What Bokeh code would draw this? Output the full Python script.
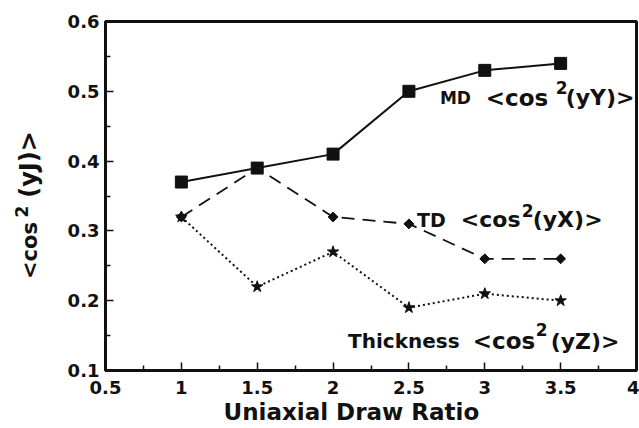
import math

from bokeh.core.properties import value
from bokeh.embed import file_html
from bokeh.layouts import row
from bokeh.models import ColumnDataSource, FixedTicker, Label, NumeralTickFormatter, Range1d, Title
from bokeh.plotting import figure
from bokeh.resources import INLINE

# Orientation factors <cos^2> versus uniaxial draw ratio
draw_ratio = [1, 1.5, 2, 2.5, 3, 3.5]
md_cos2 = [0.37, 0.39, 0.41, 0.50, 0.53, 0.54]
td_cos2 = [0.32, 0.39, 0.32, 0.31, 0.26, 0.26]
thick_cos2 = [0.32, 0.22, 0.27, 0.19, 0.21, 0.20]

x_ticks = [0.5, 1, 1.5, 2, 2.5, 3, 3.5, 4]
y_ticks = [0.1, 0.2, 0.3, 0.4, 0.5, 0.6]

FONT = "DejaVu Sans"
INK = "#111111"
H = 428
TOP, BOTTOM = 21, 58

src = ColumnDataSource(dict(x=draw_ratio, md=md_cos2, td=td_cos2, th=thick_cos2))

# narrow strip holding the rotated y-axis title; its frame shares the main plot's
# top/bottom borders and its coordinates are pixels measured up from the page bottom
ystrip = figure(
    width=48, height=H, x_range=Range1d(0, 48), y_range=Range1d(BOTTOM, H - TOP),
    x_axis_type=None, y_axis_type=None, output_backend="svg", toolbar_location=None,
    min_border_left=0, min_border_right=0, min_border_top=TOP, min_border_bottom=BOTTOM,
    outline_line_color=None, background_fill_color="white", border_fill_color="white",
)
ystrip.grid.visible = False


def ytitle_piece(x, y, text, size):
    ystrip.text(
        x=[x], y=[y], text=[text], angle=math.pi / 2,
        text_font=value(FONT), text_font_style="bold", text_font_size=f"{size}px",
        text_color=INK, text_align="center", text_baseline="middle",
    )


ytitle_piece(29, 178, "<cos", 21)
ytitle_piece(21, 217, "2", 17)
ytitle_piece(28, 264, "(yJ)>", 24)

p = figure(
    width=591, height=H,
    x_range=Range1d(0.5, 4), y_range=Range1d(0.1, 0.6),
    output_backend="svg", toolbar_location=None,
    min_border_left=57, min_border_right=3, min_border_top=TOP, min_border_bottom=BOTTOM,
    background_fill_color="white", border_fill_color="white",
)
p.grid.visible = False
p.outline_line_color = INK
p.outline_line_width = 3

# axes: inward ticks, one minor tick between majors
x_minor = [(a + b) / 2 for a, b in zip(x_ticks[:-1], x_ticks[1:])]
y_minor = [(a + b) / 2 for a, b in zip(y_ticks[:-1], y_ticks[1:])]
p.xaxis.ticker = FixedTicker(ticks=x_ticks, minor_ticks=x_minor)
p.yaxis.ticker = FixedTicker(ticks=y_ticks, minor_ticks=y_minor)
p.xaxis.formatter = NumeralTickFormatter(format="0.[0]")
p.yaxis.formatter = NumeralTickFormatter(format="0.0")

for ax in (p.xaxis, p.yaxis):
    ax.axis_line_width = 3
    ax.axis_line_color = INK
    ax.major_tick_in = 8
    ax.major_tick_out = 0
    ax.minor_tick_in = 5
    ax.minor_tick_out = 0
    ax.major_tick_line_width = 1.5
    ax.minor_tick_line_width = 1.5
    ax.major_tick_line_color = INK
    ax.minor_tick_line_color = INK
    ax.major_label_text_font = FONT
    ax.major_label_text_font_style = "bold"
    ax.major_label_text_font_size = "18px"
    ax.major_label_text_color = INK

p.xaxis.major_label_standoff = 10
p.yaxis.major_label_standoff = 6

p.add_layout(Title(
    text="Uniaxial Draw Ratio", align="left", offset=118, standoff=0,
    text_font=FONT, text_font_style="bold", text_font_size="23px", text_color=INK,
), "below")

# series
p.line("x", "md", source=src, line_color=INK, line_width=2)
p.line("x", "td", source=src, line_color=INK, line_width=1.8, line_dash="13 8")
p.line("x", "th", source=src, line_color=INK, line_width=2, line_dash="2 3")
p.scatter("x", "md", source=src, marker="square", size=12, fill_color=INK, line_color=INK)
p.scatter("x", "td", source=src, marker="square", angle=math.pi / 4, size=7,
          fill_color=INK, line_color=INK)
p.scatter("x", "th", source=src, marker="star", size=12, fill_color=INK, line_color=INK)


def piece(x, y, text, size):
    p.add_layout(Label(
        x=x, y=y, text=text,
        text_font=FONT, text_font_style="bold", text_font_size=f"{size}px",
        text_color=INK, text_align="left", text_baseline="alphabetic",
    ))


# series captions with raised exponent
piece(2.704, 0.491, "MD", 17)
piece(3.007, 0.491, "<cos", 23)
piece(3.467, 0.5054, "2", 17)
piece(3.533, 0.491, "(yY)>", 22)

piece(2.553, 0.3163, "TD", 19)
piece(2.842, 0.3163, "<cos", 22)
piece(3.243, 0.3292, "2", 17)
piece(3.316, 0.3163, "(yX)>", 22)

piece(2.099, 0.1416, "Thickness", 20)
piece(2.921, 0.1416, "<cos", 23)
piece(3.336, 0.1586, "2", 17)
piece(3.434, 0.1416, "(yZ)>", 22)

open("out.html", "w").write(file_html(row(ystrip, p), INLINE))
